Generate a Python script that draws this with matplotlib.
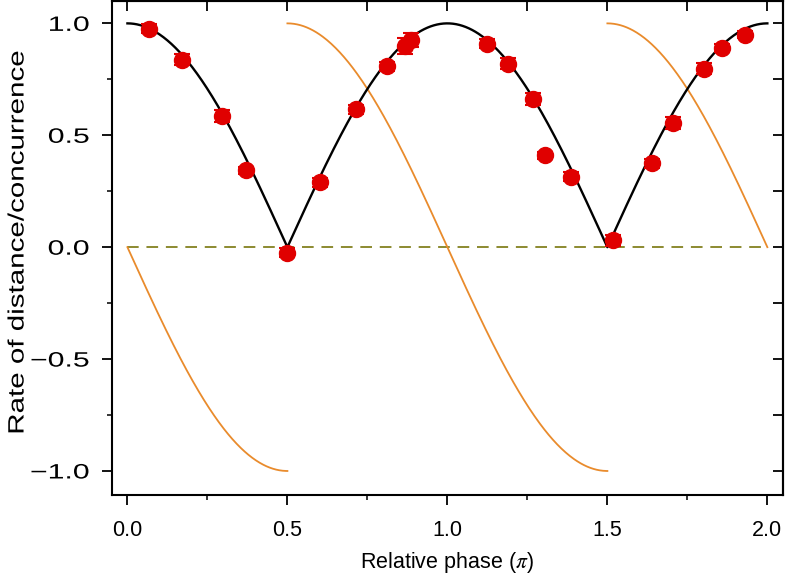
import numpy as np
import matplotlib
matplotlib.use("Agg")
import matplotlib.pyplot as plt
from matplotlib.patheffects import AbstractPathEffect
from matplotlib.transforms import Affine2D

# measured data (relative phase in units of pi, rate)
phase = [0.069, 0.170, 0.295, 0.371, 0.500, 0.601, 0.713, 0.810, 0.868, 0.885,
         1.123, 1.188, 1.266, 1.306, 1.386, 1.519, 1.639, 1.704, 1.801, 1.858, 1.931]
rate = [0.976, 0.838, 0.586, 0.344, -0.024, 0.290, 0.617, 0.809, 0.900, 0.925,
        0.909, 0.820, 0.662, 0.411, 0.314, 0.031, 0.376, 0.555, 0.798, 0.890, 0.950]
rate_err = [0.02, 0.025, 0.025, 0.015, 0.02, 0.02, 0.02, 0.02, 0.035, 0.03,
            0.02, 0.025, 0.025, 0.015, 0.02, 0.025, 0.02, 0.025, 0.025, 0.02, 0.015]

x_ticks = [0.0, 0.5, 1.0, 1.5, 2.0]
y_ticks = [-1.0, -0.5, 0.0, 0.5, 1.0]

plt.rcParams['font.family'] = ['Liberation Sans', 'DejaVu Sans']
plt.rcParams['mathtext.fontset'] = 'stix'


class Stretch(AbstractPathEffect):
    """Widen glyphs along the text direction (the reference's y-axis text is wide)."""
    def __init__(self, sx, anchor='right'):
        super().__init__()
        self.sx = sx
        self.anchor = anchor

    def draw_path(self, renderer, gc, tpath, affine, rgbFace=None):
        ext = tpath.get_extents()
        if self.anchor == 'right':
            a = ext.x1
        else:
            a = 0.5 * (ext.x0 + ext.x1)
        pre = Affine2D().translate(-a, 0).scale(self.sx, 1).translate(a, 0)
        renderer.draw_path(gc, tpath, pre + affine, rgbFace)


fig = plt.figure(figsize=(7.88, 5.86), dpi=100)
ax = fig.add_axes([0.1418, 0.1558, 0.9933 - 0.1418, 0.9983 - 0.1558])

# theory curves
xs = np.linspace(0, 2, 801)
ax.plot(xs, np.abs(np.cos(np.pi * xs)), color='black', lw=1.7, zorder=3)

segments = [(0.0, 0.5), (0.5, 1.5), (1.5, 2.0)]
for a, b in segments:
    xx = np.linspace(a, b, 300)
    yy = -np.sin(np.pi * xx) * np.sign(np.cos(np.pi * (a + b) / 2))
    ax.plot(xx, yy, color='#E98B2C', lw=1.3, zorder=2)

ax.plot([0, 2], [0, 0], color='#8C8A30', lw=1.4, dashes=(6, 4), zorder=1)

ax.errorbar(phase, rate, yerr=rate_err, fmt='o', color='#E00000', ms=11.5,
            mec='#E00000', ecolor='#E00000', elinewidth=1.5, capsize=5.5,
            capthick=1.5, zorder=4)

ax.set_xlim(-0.049, 2.048)
ax.set_ylim(-1.106, 1.10)
ax.set_xticks(x_ticks)
ax.set_xticklabels([f"{v:.1f}" for v in x_ticks])
ax.set_yticks(y_ticks)
ax.set_yticklabels([f"{v:.1f}".replace('-', '\u2212') for v in y_ticks])
ax.set_xticks(np.arange(0, 2.01, 0.25), minor=True)
ax.set_yticks(np.arange(-1, 1.01, 0.25), minor=True)
ax.tick_params(which='major', direction='out', length=7, width=1.3,
               labelsize=15.5, top=False, right=False)
ax.tick_params(axis='x', which='major', pad=11)
ax.tick_params(axis='y', which='major', pad=9, labelsize=15)
ax.tick_params(which='minor', direction='out', length=3.6, width=1.1,
               top=False, right=False)
for lab in ax.get_yticklabels():
    lab.set_path_effects([Stretch(1.45, 'right')])

secx = ax.secondary_xaxis('top')
secx.set_xticks(np.arange(0, 2.01, 0.25))
secx.tick_params(direction='in', length=7, width=1.3, labeltop=False)
secx.set_xticklabels([])
secy = ax.secondary_yaxis('right')
secy.set_yticks(np.arange(-1, 1.01, 0.25))
secy.tick_params(direction='in', length=7, width=1.3, labelright=False)
secy.set_yticklabels([])

for s in ax.spines.values():
    s.set_linewidth(1.5)
secx.spines['top'].set_linewidth(1.5)
secy.spines['right'].set_linewidth(1.5)

ax.set_xlabel(r'Relative phase ($\pi$)', fontsize=15.5, labelpad=7)
ylab = ax.set_ylabel('Rate of distance/concurrence', fontsize=16)
ylab.set_path_effects([Stretch(1.33, 'center')])
ax.yaxis.set_label_coords(-0.124, 0.512)

fig.savefig('out.png', dpi=100)
